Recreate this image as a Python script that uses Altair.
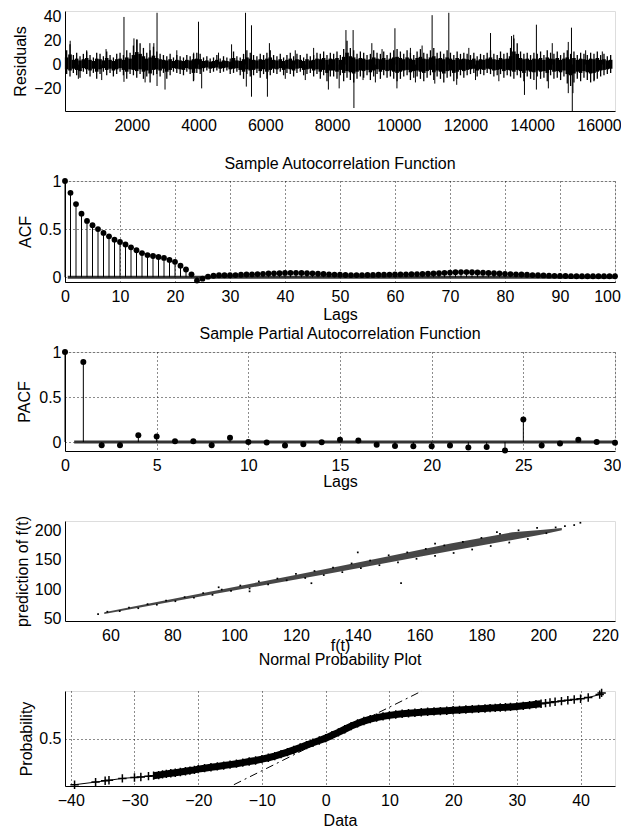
import altair as alt
import pandas as pd

FONT = "Liberation Sans"
FS = 16
W = 550

# ---------------- Panel 1: residuals ----------------
res_t = list(range(50, 16400, 100))  # bin centres (164 bins)
res_hi = [12, 17, 8, 10, 7, 9, 11, 8, 6, 10, 9, 7, 11, 8, 6, 9, 10, 8, 12, 10,
          16, 21, 18, 14, 10, 12, 15, 11, 9, 8, 7, 9, 6, 8, 7, 6, 8, 7, 9, 10,
          9, 6, 7, 5, 6, 8, 5, 7, 6, 5, 11, 7, 6, 9, 12, 10, 8, 7, 9, 8,
          10, 12, 8, 7, 9, 6, 8, 10, 7, 9, 8, 6, 9, 7, 8, 10, 9, 11, 8, 10,
          9, 11, 8, 13, 20, 14, 12, 9, 11, 10, 8, 9, 12, 10, 9, 11, 8, 10, 12, 13,
          11, 9, 12, 10, 8, 11, 13, 10, 9, 12, 14, 10, 11, 9, 12, 10, 8, 11, 9, 10,
          9, 8, 10, 7, 9, 8, 10, 12, 9, 8, 11, 9, 10, 14, 22, 18, 11, 9, 10, 8,
          10, 9, 11, 8, 12, 10, 9, 11, 8, 10, 12, 9, 11, 8, 10, 9, 8, 10, 9, 11, 8, 9, 7, 8]
res_lo = [-8, -10, -7, -9, -11, -6, -8, -10, -7, -12, -8, -6, -9, -7, -10, -8, -6, -9, -12, -8,
          -9, -11, -8, -12, -10, -15, -9, -8, -10, -7, -12, -9, -6, -7, -8, -9, -6, -8, -14, -7,
          -8, -6, -5, -7, -6, -5, -7, -6, -5, -8, -7, -6, -9, -12, -8, -10, -9, -7, -11, -8,
          -12, -9, -7, -8, -6, -9, -7, -8, -10, -7, -6, -9, -8, -7, -10, -8, -12, -9, -14, -10,
          -10, -12, -9, -14, -11, -13, -15, -12, -10, -11, -9, -13, -10, -8, -12, -9, -11, -10, -12, -14,
          -12, -10, -9, -13, -11, -10, -12, -14, -11, -9, -13, -10, -12, -15, -11, -10, -14, -12, -9, -11,
          -9, -8, -7, -10, -8, -9, -7, -8, -10, -9, -8, -11, -9, -10, -12, -9, -11, -14, -10, -12,
          -13, -10, -12, -11, -14, -9, -12, -11, -13, -10, -16, -18, -15, -12, -14, -11, -13, -15, -14, -12, -10, -9, -8, -7]
spike_t = [155, 650, 1230, 1767, 2066, 2160, 2543, 2662, 2758, 3350, 3857, 4000, 4600, 4991,
           5409, 5588, 6125, 6900, 7450, 8418, 8633, 9194, 9500, 9886, 10350, 10700, 11000,
           11500, 12100, 12750, 13380, 13444, 14125, 14600, 15080, 15176, 15600, 16100,
           400, 1100, 1767, 2400, 2758, 2997, 3857, 4095, 5433, 5588, 6065, 6600, 7200, 7892,
           8215, 8657, 8931, 9300, 9946, 10500, 11080, 11737, 12300, 13000, 13767, 14125,
           14483, 15080, 15200, 15220, 15860]
spike_v = [20, 12, 13, 40, 22, 21, 18, 18, 43.5, 12, 10, 36, 10, 17,
           43.5, 33, 18, 12, 14, 29, 29, 18, 13, 30.5, 14, 16, 41.5,
           43.5, 14, 26.5, 24, 25, 33.5, 18, 19, 31, 12, 11,
           -12, -13, -14.5, -15, -18, -21, -13, -20, -18.5, -27, -27, -12, -13, -21,
           -20, -36.5, -13, -15, -20, -15, -16, -17, -13, -14, -25.5, -21,
           -20, -24, -39, -24, -13]
res_xticks = [2000, 4000, 6000, 8000, 10000, 12000, 14000, 16000]
res_yticks = [-20, 0, 20, 40]

# ---------------- Panel 2: ACF ----------------
acf_lag = list(range(0, 101))
acf_val = [1.0, 0.877, 0.76, 0.66, 0.585, 0.54, 0.50, 0.46, 0.425, 0.39,
           0.366, 0.34, 0.31, 0.28, 0.25, 0.23, 0.22, 0.21, 0.20, 0.18,
           0.16, 0.12, 0.08, 0.03, -0.035,
           -0.015, 0.005, 0.015, 0.02, 0.02, 0.02, 0.022, 0.025, 0.028, 0.03,
           0.032, 0.035, 0.038, 0.04, 0.042, 0.044, 0.045, 0.045, 0.044, 0.042,
           0.04, 0.037, 0.034, 0.03, 0.027, 0.025, 0.023, 0.022, 0.022, 0.022,
           0.023, 0.024, 0.025, 0.026, 0.027, 0.028, 0.029, 0.03, 0.031, 0.032,
           0.034, 0.036, 0.039, 0.042, 0.045, 0.048, 0.051, 0.053, 0.053, 0.052,
           0.05, 0.047, 0.044, 0.041, 0.038, 0.035, 0.032, 0.03, 0.028, 0.025,
           0.022, 0.02, 0.018, 0.016, 0.014, 0.013, 0.012, 0.011, 0.01, 0.01,
           0.01, 0.01, 0.01, 0.01, 0.01, 0.01]

# ---------------- Panel 3: PACF ----------------
pacf_lag = list(range(0, 31))
pacf_val = [1.0, 0.89, -0.037, -0.037, 0.074, 0.06, 0.007, 0.007, -0.035, 0.048,
            0.0, -0.005, -0.04, -0.025, -0.003, 0.026, 0.018, -0.03, -0.044, -0.048,
            -0.048, -0.04, -0.06, -0.055, -0.095, 0.25, -0.04, -0.018, 0.026, 0.0,
            -0.007]

# ---------------- Panel 4: prediction vs f(t) ----------------
sc_band_x = [58, 70, 90, 110, 130, 150, 170, 190, 200, 206]
sc_band_lo = [57, 68.5, 88, 107, 126, 145.5, 165.5, 184.5, 194, 201]
sc_band_hi = [60, 72.5, 93, 114, 135, 156.5, 178.5, 197.5, 202, 205]
sc_pt_x = [56, 59, 63, 66, 69, 72, 75, 78, 81, 84,
           87, 90, 93, 96, 99, 102, 105, 108, 111, 114,
           117, 120, 123, 126, 129, 132, 135, 138, 141, 144,
           147, 150, 153, 156, 159, 162, 165, 168, 171, 174,
           177, 180, 183, 186, 189, 192, 195, 198, 201, 204,
           207, 210, 212, 140, 105, 165, 125, 185, 95, 154]
sc_pt_y = [57, 61, 62, 68, 67, 74, 73, 80, 79, 86,
           85, 93, 90, 99, 97, 106, 101, 113, 108, 118,
           115, 126, 119, 131, 124, 137, 129, 144, 136, 149,
           141, 158, 146, 163, 152, 169, 157, 175, 162, 181,
           168, 188, 174, 195, 180, 201, 186, 205, 196, 206,
           208, 210, 214, 163, 96, 178, 110, 198, 103, 110]

# ---------------- Panel 5: normal probability plot ----------------
np_x = [-39.4, -36.1, -34.6, -34.0, -31.9, -30.0, -29.0, -27.8, -27.0, -26.2,
        -25.6, -25.0, -24.3, -23.6, -22.8, -22.0, -21.3, -20.6, -20, -19,
        -18, -17, -16, -15, -14, -13, -12, -11, -10, -9,
        -8, -7, -6, -5, -4, -3, -2, -1, 0, 1,
        2, 3, 4, 5, 6, 7, 8, 9, 10, 11,
        12, 13, 14, 15, 16, 17, 18, 19, 20, 21,
        22, 23, 24, 25, 25.8, 26.6, 27.4, 28.2, 29, 30,
        31, 32, 33, 33.8, 34.5, 35.2, 36, 37, 38, 39,
        40, 41.2, 43.0, 43.3]
np_z = [-3.89, -3.67, -3.56, -3.52, -3.36, -3.28, -3.24, -3.17, -3.13, -3.08,
        -3.02, -2.98, -2.93, -2.88, -2.82, -2.76, -2.70, -2.64, -2.58, -2.50,
        -2.42, -2.35, -2.28, -2.20, -2.12, -2.03, -1.94, -1.85, -1.74, -1.62,
        -1.48, -1.32, -1.15, -0.96, -0.76, -0.56, -0.36, -0.17, 0.03, 0.27,
        0.52, 0.78, 1.04, 1.27, 1.47, 1.63, 1.76, 1.86, 1.95, 2.02,
        2.08, 2.13, 2.17, 2.21, 2.25, 2.28, 2.31, 2.34, 2.38, 2.41,
        2.44, 2.47, 2.50, 2.53, 2.56, 2.58, 2.61, 2.63, 2.66, 2.70,
        2.75, 2.81, 2.88, 2.93, 2.98, 3.03, 3.09, 3.15, 3.22, 3.28,
        3.35, 3.45, 3.70, 3.84]
ref_x = [-14.4, 15.1]
ref_z = [-3.89, 4.0]


def axis(**kw):
    d = dict(labelFont=FONT, labelFontSize=FS, labelColor="black",
             titleFont=FONT, titleFontSize=FS, titleFontWeight="normal", titleColor="black",
             domainColor="black", domainWidth=1, ticks=False, labelFlush=False,
             labelOverlap=False, gridColor="black", gridDash=[1, 3], gridWidth=1,
             gridOpacity=0.9)
    d.update(kw)
    return alt.Axis(**d)


def ttl(text, offset):
    return alt.TitleParams(text, font=FONT, fontSize=FS, fontWeight="normal", color="black",
                           offset=offset, anchor="middle", frame="group")


# ---- panel 1
res_df = pd.DataFrame({"t": res_t, "lo": res_lo, "hi": res_hi})
spk_df = pd.DataFrame({"t": spike_t, "v": spike_v})


def x1(f):
    return alt.X(f"{f}:Q", scale=alt.Scale(domain=[0, 16480], nice=False, zero=False),
                 axis=axis(values=res_xticks, format="d", grid=False, title=None, labelPadding=6))


def y1(f):
    return alt.Y(f"{f}:Q", scale=alt.Scale(domain=[-39, 45], nice=False, zero=False),
                 axis=axis(values=res_yticks, format="d", grid=False, title="Residuals", titleX=-44.8,
                           titleBaseline="middle", labelPadding=4))


p1 = alt.layer(
    alt.Chart(res_df).mark_rule(color="black", strokeWidth=1.3).encode(x=x1("t"), y=y1("lo"), y2="hi:Q"),
    alt.Chart(res_df).transform_calculate(clo="datum.lo * 0.5", chi="datum.hi * 0.5").mark_rule(
        color="black", strokeWidth=3.6).encode(x=x1("t"), y=y1("clo"), y2="chi:Q"),
    alt.Chart(spk_df).mark_rule(color="black", strokeWidth=1).encode(x=x1("t"), y=y1("v"), y2=alt.datum(0)),
).properties(width=W, height=100)

# ---- panel 2
acf_df = pd.DataFrame({"lag": acf_lag, "acf": acf_val})
acf_base = pd.DataFrame({"x0": [0.5], "x1": [100], "y0": [0]})


def x2(f):
    return alt.X(f"{f}:Q", scale=alt.Scale(domain=[0, 100], nice=False, zero=False),
                 axis=axis(values=list(range(0, 101, 10)), grid=True, title="Lags", titleY=32,
                           titleBaseline="middle", labelPadding=6,
                           labelOffset={"condition": {"test": "datum.value == 100", "value": -8}, "value": 0}))


def y2(f):
    return alt.Y(f"{f}:Q", scale=alt.Scale(domain=[-0.05, 1], nice=False, zero=False),
                 axis=axis(values=[0, 0.5, 1], format="~g", grid=True, title="ACF", titleX=-40,
                           titleBaseline="middle", labelPadding=4))


p2 = alt.layer(
    alt.Chart(acf_base).mark_rule(color="#333333", strokeWidth=3).encode(x=x2("x0"), x2="x1:Q", y=y2("y0")),
    alt.Chart(acf_df).mark_rule(color="black", strokeWidth=1).encode(x=x2("lag"), y=y2("acf"), y2=alt.datum(0)),
    alt.Chart(acf_df).mark_circle(color="black", size=34, opacity=1).encode(x=x2("lag"), y=y2("acf")),
).properties(width=W, height=101, title=ttl("Sample Autocorrelation Function", 1))

# ---- panel 3
pacf_df = pd.DataFrame({"lag": pacf_lag, "pacf": pacf_val})
pacf_base = pd.DataFrame({"x0": [0.5], "x1": [30], "y0": [0]})


def x3(f):
    return alt.X(f"{f}:Q", scale=alt.Scale(domain=[0, 30], nice=False, zero=False),
                 axis=axis(values=list(range(0, 31, 5)), grid=True, title="Lags", titleY=30,
                           titleBaseline="middle", labelPadding=6,
                           labelOffset={"condition": {"test": "datum.value == 30", "value": -3}, "value": 0}))


def y3(f):
    return alt.Y(f"{f}:Q", scale=alt.Scale(domain=[-0.1, 1], nice=False, zero=False),
                 axis=axis(values=[0, 0.5, 1], format="~g", grid=True, title="PACF", titleX=-40.5,
                           titleBaseline="middle", labelPadding=4))


p3 = alt.layer(
    alt.Chart(pacf_base).mark_rule(color="#333333", strokeWidth=3).encode(x=x3("x0"), x2="x1:Q", y=y3("y0")),
    alt.Chart(pacf_df).mark_rule(color="black", strokeWidth=1).encode(x=x3("lag"), y=y3("pacf"), y2=alt.datum(0)),
    alt.Chart(pacf_df).mark_circle(color="black", size=36, opacity=1).encode(x=x3("lag"), y=y3("pacf")),
).properties(width=W, height=99, title=ttl("Sample Partial Autocorrelation Function", 2.5))

# ---- panel 4
band_df = pd.DataFrame({"x": sc_band_x, "lo": sc_band_lo, "hi": sc_band_hi})
pts_df = pd.DataFrame({"x": sc_pt_x, "y": sc_pt_y})


def x4(f):
    return alt.X(f"{f}:Q", scale=alt.Scale(domain=[45.3, 223.2], nice=False, zero=False),
                 axis=axis(values=list(range(60, 221, 20)), grid=False, title="f(t)", titleY=24,
                           titleBaseline="middle", labelPadding=6))


def y4(f):
    return alt.Y(f"{f}:Q", scale=alt.Scale(domain=[45, 217], nice=False, zero=False),
                 axis=axis(values=[50, 100, 150, 200], grid=False, title="prediction of f(t)",
                           titleX=-43, titleBaseline="middle", labelPadding=4))


p4 = alt.layer(
    alt.Chart(band_df).mark_area(color="black", opacity=0.72).encode(x=x4("x"), y=y4("lo"), y2="hi:Q"),
    alt.Chart(pts_df).mark_square(color="black", size=3, opacity=1).encode(x=x4("x"), y=y4("y")),
).properties(width=W, height=100)

# ---- panel 5
np_df = pd.DataFrame({"x": np_x, "z": np_z})
ref_df = pd.DataFrame({"x": ref_x, "z": ref_z})


def x5(f):
    return alt.X(f"{f}:Q", scale=alt.Scale(domain=[-40.9, 45.4], nice=False, zero=False),
                 axis=axis(values=list(range(-40, 41, 10)), grid=True, title="Data", titleY=34,
                           titleBaseline="middle", labelPadding=6))


def y5(f):
    return alt.Y(f"{f}:Q", scale=alt.Scale(domain=[-4, 4], nice=False, zero=False),
                 axis=axis(values=[0], labelExpr="'0.5'", grid=True, title="Probability",
                           titleX=-39, titleBaseline="middle", labelPadding=4))


p5 = alt.layer(
    alt.Chart(ref_df).mark_line(color="black", strokeWidth=1, strokeDash=[8, 4, 2, 4]).encode(x=x5("x"), y=y5("z")),
    alt.Chart(np_df).transform_filter("datum.x >= -27.5 && datum.x <= 34").mark_line(
        color="black", strokeWidth=7).encode(x=x5("x"), y=y5("z")),
    alt.Chart(np_df).mark_line(color="black", strokeWidth=1).encode(x=x5("x"), y=y5("z")),
    alt.Chart(np_df).mark_point(shape="M-1,0H1M0,-1V1", filled=False, size=70, strokeWidth=1.5,
                                color="black", opacity=1).encode(x=x5("x"), y=y5("z")),
).properties(width=W, height=95, title=ttl("Normal Probability Plot", 17.5))

chart = alt.vconcat(p1, p2, p3, p4, p5, spacing=70, bounds="flush").properties(
    padding={"left": 3, "top": 0, "right": -1, "bottom": -2}
).configure_view(strokeWidth=0).configure(font=FONT, background="white")

chart.save("out.html", embed_options={"renderer": "svg", "actions": False})
